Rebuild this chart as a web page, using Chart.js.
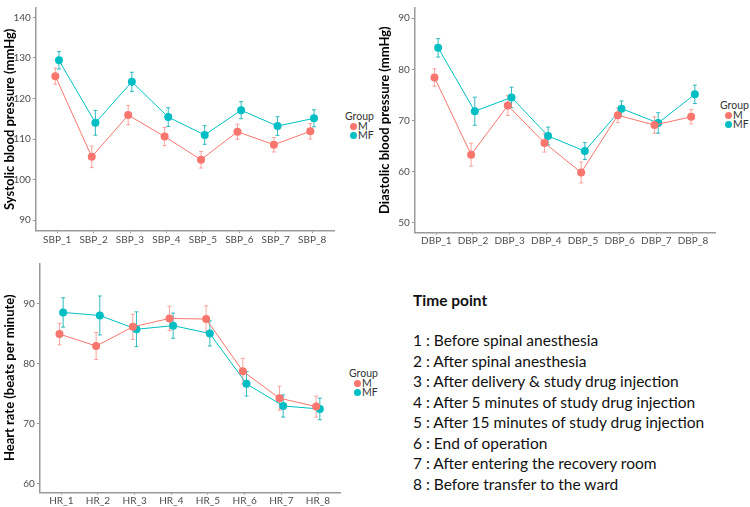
<!DOCTYPE html>
<html>
<head>
<meta charset="utf-8">
<script src="https://cdn.jsdelivr.net/npm/chart.js@4.4.1/dist/chart.umd.min.js"></script>
<style>
  html, body { margin:0; padding:0; background:#fff; }
  #wrap { position:relative; width:750px; height:507px; overflow:hidden; background:#fff; font-family: Lato, "Open Sans", sans-serif; }
  .panel { position:absolute; }
  .legend { position:absolute; font-family: Lato, sans-serif; font-size:10.5px; color:#333; line-height:9px; }
  .legend .ttl { margin-bottom:1px; }
  .legend .it { position:relative; padding-left:13px; height:9px; }
  .legend .dot { position:absolute; left:5px; top:1px; width:7px; height:7px; border-radius:50%; }
  #notes { position:absolute; left:413px; top:290px; font-family: Lato, sans-serif; color:#111; }
  #notes .hd { font-weight:bold; font-size:15.5px; line-height:20px; margin-bottom:20px; }
  #notes .ln { font-size:15.5px; line-height:20.5px; white-space:nowrap; }
</style>
</head>
<body>
<div id="wrap">
  <div class="panel" style="left:0;top:0;width:340px;height:250px;"><canvas id="cSBP"></canvas></div>
  <div class="panel" style="left:375px;top:0;width:345px;height:250px;"><canvas id="cDBP"></canvas></div>
  <div class="panel" style="left:0;top:250px;width:345px;height:257px;"><canvas id="cHR"></canvas></div>

  <div class="legend" style="left:345px;top:112px;"><div class="ttl">Group</div><div class="it"><span class="dot" style="background:#F8766D"></span>M</div><div class="it"><span class="dot" style="background:#00BFC4"></span>MF</div></div>
  <div class="legend" style="left:720px;top:101px;"><div class="ttl">Group</div><div class="it"><span class="dot" style="background:#F8766D"></span>M</div><div class="it"><span class="dot" style="background:#00BFC4"></span>MF</div></div>
  <div class="legend" style="left:349px;top:369px;"><div class="ttl">Group</div><div class="it"><span class="dot" style="background:#F8766D"></span>M</div><div class="it"><span class="dot" style="background:#00BFC4"></span>MF</div></div>

  <div id="notes"></div>
</div>
<script>
// ---------- data ----------
const groups = ['M', 'MF'];
const sbpLabels = ['SBP_1','SBP_2','SBP_3','SBP_4','SBP_5','SBP_6','SBP_7','SBP_8'];
const sbpM      = [125.5, 105.6, 115.9, 110.6, 104.9, 111.8, 108.6, 111.9];
const sbpMErr   = [2.0, 2.65, 2.4, 2.25, 2.05, 1.85, 1.8, 1.9];
const sbpMF     = [129.4, 114.0, 124.1, 115.4, 111.0, 117.1, 113.2, 115.1];
const sbpMFErr  = [2.15, 3.05, 2.35, 2.3, 2.3, 2.1, 2.3, 2.1];
const sbpTicks  = [90, 100, 110, 120, 130, 140];

const dbpLabels = ['DBP_1','DBP_2','DBP_3','DBP_4','DBP_5','DBP_6','DBP_7','DBP_8'];
const dbpM      = [78.4, 63.3, 72.9, 65.6, 59.8, 71.0, 69.1, 70.7];
const dbpMErr   = [1.7, 2.25, 1.95, 1.8, 2.05, 1.45, 1.6, 1.4];
const dbpMF     = [84.2, 71.8, 74.5, 66.95, 64.0, 72.3, 69.5, 75.1];
const dbpMFErr  = [1.8, 2.75, 2.0, 1.75, 1.65, 1.5, 2.0, 1.8];
const dbpTicks  = [50, 60, 70, 80, 90];

const hrLabels  = ['HR_1','HR_2','HR_3','HR_4','HR_5','HR_6','HR_7','HR_8'];
const hrM       = [84.9, 82.9, 86.1, 87.5, 87.4, 78.7, 74.2, 72.8];
const hrMErr    = [1.8, 2.25, 2.1, 2.05, 2.2, 2.15, 2.0, 1.75];
const hrMF      = [88.5, 88.0, 85.7, 86.3, 85.0, 76.6, 72.9, 72.4];
const hrMFErr   = [2.45, 3.25, 2.9, 2.1, 2.1, 2.05, 1.85, 1.8];
const hrTicks   = [60, 70, 80, 90];

const timePoints = [
  'Before spinal anesthesia',
  'After spinal anesthesia',
  'After delivery & study drug injection',
  'After 5 minutes of study drug injection',
  'After 15 minutes of study drug injection',
  'End of operation',
  'After entering the recovery room',
  'Before transfer to the ward'
];

// ---------- styling ----------
const COL = { M: '#F8766D', MF: '#00BFC4' };
const ERRCOL = { M: 'rgba(248,118,109,0.65)', MF: 'rgba(0,170,176,0.8)' };
const DODGE = { M: -0.05, MF: 0.05 };
const FONT = 'Lato, "Open Sans", sans-serif';

const errorBars = {
  id: 'errorBars',
  beforeDatasetsDraw(chart) {
    const ctx = chart.ctx, xs = chart.scales.x, ys = chart.scales.y;
    chart.data.datasets.forEach(ds => {
      if (!ds.errors) return;
      ctx.save();
      ctx.strokeStyle = ds.errColor;
      ctx.lineWidth = 1;
      ds.data.forEach((p, i) => {
        const e = ds.errors[i];
        const x = xs.getPixelForValue(p.x);
        const y1 = ys.getPixelForValue(p.y + e);
        const y2 = ys.getPixelForValue(p.y - e);
        ctx.beginPath();
        ctx.moveTo(x, y1); ctx.lineTo(x, y2);
        ctx.moveTo(x - 2, y1); ctx.lineTo(x + 2, y1);
        ctx.moveTo(x - 2, y2); ctx.lineTo(x + 2, y2);
        ctx.stroke();
      });
      ctx.restore();
    });
  }
};

function makePanel(id, o) {
  const mk = (g, vals, errs) => ({
    label: g,
    data: vals.map((v, i) => ({ x: i + DODGE[g], y: v })),
    errors: errs,
    errColor: ERRCOL[g],
    borderColor: COL[g],
    backgroundColor: COL[g],
    borderWidth: 1,
    pointRadius: 4,
    pointBorderWidth: 0,
    pointHoverRadius: 4,
    tension: 0
  });
  new Chart(document.getElementById(id), {
    type: 'line',
    data: { datasets: [mk('M', o.m, o.mErr), mk('MF', o.mf, o.mfErr)] },
    options: {
      responsive: true,
      maintainAspectRatio: false,
      animation: false,
      events: [],
      layout: { padding: { top: o.padTop, right: o.padRight, left: 0, bottom: 0 } },
      plugins: { legend: { display: false }, tooltip: { enabled: false } },
      scales: {
        x: {
          type: 'linear',
          min: -0.6, max: 7.6,
          afterBuildTicks: s => { s.ticks = o.labels.map((_, i) => ({ value: i })); },
          afterFit: s => { s.height = o.xH; },
          ticks: { callback: v => o.labels[v], color: '#4d4d4d', font: { family: FONT, size: 10 }, padding: o.xPad, maxRotation: 0, autoSkip: false },
          grid: { display: true, drawOnChartArea: false, drawTicks: true, tickLength: 2.5, color: '#999', lineWidth: 1 },
          border: { display: true, color: '#9a9a9a', width: 1.5 }
        },
        y: {
          min: o.yMin, max: o.yMax,
          afterBuildTicks: s => { s.ticks = o.yTicks.map(v => ({ value: v })); },
          afterFit: s => { s.width = o.yW; },
          ticks: { color: '#4d4d4d', font: { family: FONT, size: 10 }, padding: 2 },
          grid: { display: true, drawOnChartArea: false, drawTicks: true, tickLength: 2.5, color: '#999', lineWidth: 1 },
          border: { display: true, color: '#9a9a9a', width: 1.5 },
          title: { display: true, text: o.title, color: '#000', font: { family: FONT, size: 13, weight: 'bold' }, padding: { top: 2, bottom: 2 } }
        }
      }
    },
    plugins: [errorBars]
  });
}

makePanel('cSBP', { labels: sbpLabels, m: sbpM, mErr: sbpMErr, mf: sbpMF, mfErr: sbpMFErr, yTicks: sbpTicks,
  yMin: 87.4, yMax: 142.3, title: 'Systolic blood pressure (mmHg)', padTop: 2, padRight: 6, xH: 19.3, xPad: 1, yW: 35.3 });
makePanel('cDBP', { labels: dbpLabels, m: dbpM, mErr: dbpMErr, mf: dbpMF, mfErr: dbpMFErr, yTicks: dbpTicks,
  yMin: 48.1, yMax: 92, title: 'Diastolic blood pressure (mmHg)', padTop: 1.7, padRight: 5, xH: 17.7, xPad: 0, yW: 39.3 });
makePanel('cHR', { labels: hrLabels, m: hrM, mErr: hrMErr, mf: hrMF, mfErr: hrMFErr, yTicks: hrTicks,
  yMin: 58.5, yMax: 96.7, title: 'Heart rate (beats per minute)', padTop: 13.3, padRight: 5, xH: 14.7, xPad: 0, yW: 39.3 });

// notes
const notes = document.getElementById('notes');
const hd = document.createElement('div'); hd.className = 'hd'; hd.textContent = 'Time point'; notes.appendChild(hd);
timePoints.forEach((t, i) => {
  const d = document.createElement('div'); d.className = 'ln'; d.textContent = (i + 1) + ' : ' + t; notes.appendChild(d);
});
</script>
</body>
</html>
